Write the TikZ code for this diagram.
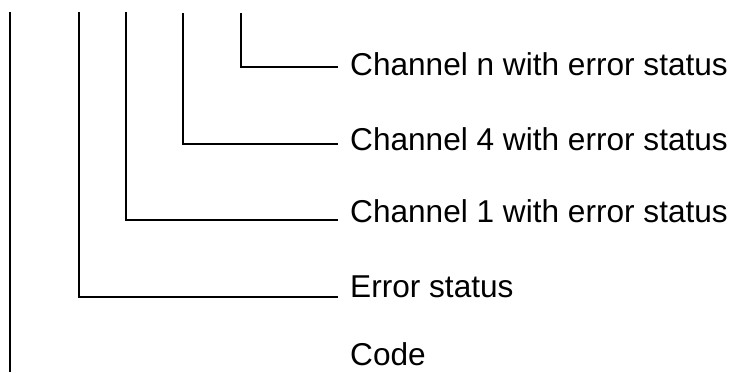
\documentclass[tikz,border=0pt]{standalone}
\usepackage{fontspec}
\setmainfont{Liberation Sans}
\begin{document}
\begin{tikzpicture}[x=1pt,y=-1pt,
  lbl/.style={anchor=base west,inner sep=0pt,font=\fontsize{31.6}{38}\selectfont},
  wire/.style={line width=1.9pt,line join=miter}]
\useasboundingbox (0,0) rectangle (735,372);
% labels
\node[lbl] (ln) at (350,75) {Channel n with error status};
\node[lbl] (l4) at (350,150) {Channel 4 with error status};
\node[lbl] (l1) at (350,222) {Channel 1 with error status};
\node[lbl] (le) at (350,297) {Error status};
\node[lbl] (lc) at (350,365) {Code};
% tops of the wires
\coordinate (tc) at (10,12);
\coordinate (te) at (79,12);
\coordinate (t1) at (126,12);
\coordinate (t4) at (183,13);
\coordinate (tn) at (241,13);
% wire ends
\coordinate (en) at (338,67);
\coordinate (e4) at (338,144);
\coordinate (e1) at (338,220);
\coordinate (ee) at (338,297);
\coordinate (ec) at (10,372);
\draw[wire] (tn) |- (en);
\draw[wire] (t4) |- (e4);
\draw[wire] (t1) |- (e1);
\draw[wire] (te) |- (ee);
\draw[wire] (tc) -- (ec);
\end{tikzpicture}
\end{document}
